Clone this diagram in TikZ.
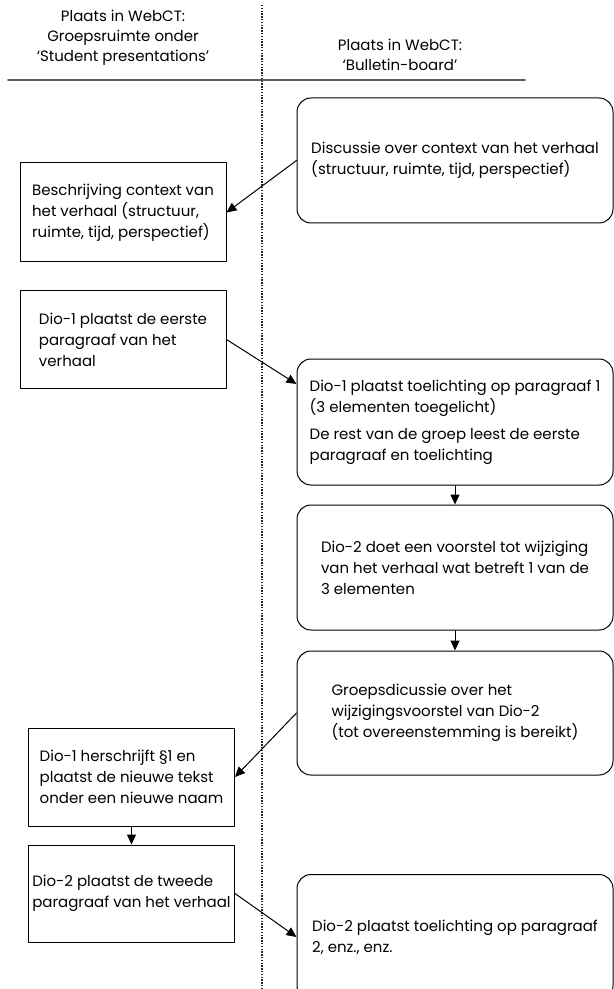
\documentclass[tikz,border=0pt]{standalone}
\usepackage{fontspec}
\setmainfont{Poppins}
\usetikzlibrary{arrows.meta}

\begin{document}
\begin{tikzpicture}[line cap=round,line join=round,>={Triangle[length=5pt,width=4.5pt]},x=0.5pt,y=-0.5pt,
  font=\fontsize{7.5}{10.5}\selectfont,
  kop/.style={align=center,inner sep=0pt,font=\fontsize{7.5}{10}\selectfont},
  linksbox/.style={draw,line width=0.5pt,align=left,inner sep=0pt,minimum width=103pt,minimum height=#1},
  bordbox/.style={draw,line width=0.5pt,rounded corners=7pt,align=left,inner sep=0pt,minimum width=158pt,minimum height=#1},
  pijl/.style={->,line width=0.5pt}]
\useasboundingbox (0,0) rectangle (614,989);

\node[kop] (kop1) at (123,38) {Plaats in WebCT:\\Groepsruimte onder\\‘Student presentations’};
\node[kop] (kop2) at (400,55) {Plaats in WebCT:\\‘Bulletin-board’};
\draw [line width=0.9pt,black!65] (8,80)-- (525,80);
\draw [line width=0.6pt,black!85,line cap=butt,dash pattern=on 0.7pt off 0.7pt] (262,5)-- (262,989);

\node[bordbox=62.5pt] (bb1) at (455,160.5) {Discussie over context van het verhaal\\(structuur, ruimte, tijd, perspectief)};
\node[linksbox=49.5pt] (lb1) at (123,212.5) {Beschrijving context van\\het verhaal (structuur,\\ruimte, tijd, perspectief)};
\node[linksbox=48.5pt] (lb2) at (123,339.5) {Dio-1 plaatst de eerste\\paragraaf van het\\verhaal};
\node[bordbox=63pt] (bb2) at (455,422) {Dio-1 plaatst toelichting op paragraaf 1\\(3 elementen toegelicht)\\[3pt]De rest van de groep leest de eerste\\paragraaf en toelichting};
\node[bordbox=62.5pt] (bb3) at (455,567.5) {Dio-2 doet een voorstel tot wijziging\\van het verhaal wat betreft 1 van de\\3 elementen};
\node[bordbox=62pt] (bb4) at (455,713) {Groepsdicussie over het\\wijzigingsvoorstel van Dio-2\\(tot overeenstemming is bereikt)};
\node[linksbox=49pt] (lb3) at (131.5,777) {Dio-1 herschrijft §1 en\\plaatst de nieuwe tekst\\onder een nieuwe naam};
\node[linksbox=48.5pt] (lb4) at (131.5,893.5) {Dio-2 plaatst de tweede\\paragraaf van het verhaal};
\node[bordbox=62.5pt] (bb5) at (455,937) {Dio-2 plaatst toelichting op paragraaf\\2, enz., enz.};

\draw[pijl] (bb1.west) -- (lb1.east);
\draw[pijl] (lb2.east) -- ([yshift=19pt]bb2.west);
\draw[pijl] (bb2.south) -- (bb3.north);
\draw[pijl] (bb3.south) -- (bb4.north);
\draw[pijl] (bb4.west) -- (lb3.east);
\draw[pijl] (lb3.south) -- (lb4.north);
\draw[pijl] (lb4.east) -- (bb5.west);
\end{tikzpicture}
\end{document}
